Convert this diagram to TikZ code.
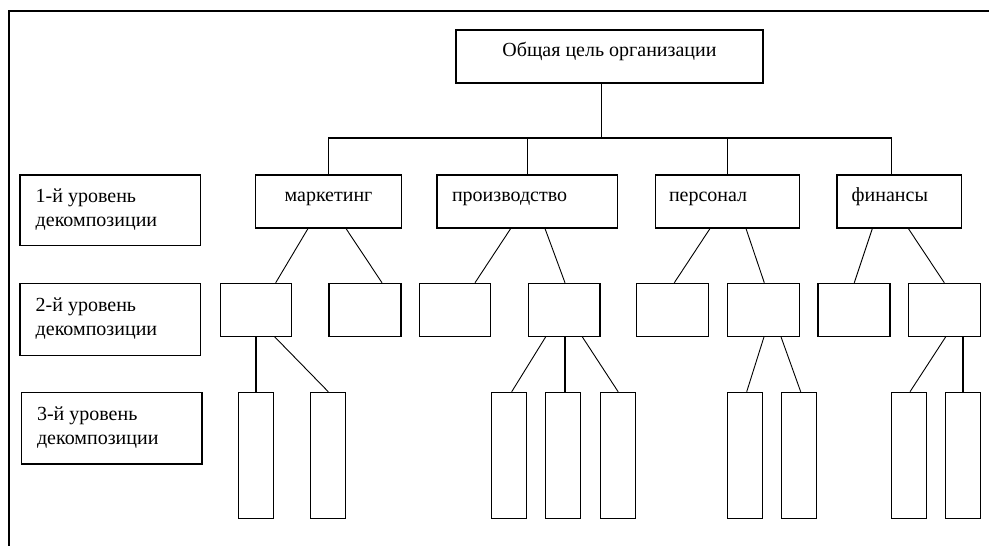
\documentclass[tikz,border=0pt]{standalone}
\usepackage{fontspec}
\setmainfont{Liberation Serif}
\begin{document}
\begin{tikzpicture}[x=1pt,y=-1pt,
  line width=1.1pt,
  box/.style={draw, inner sep=0pt, minimum height=53pt},
  onel/.style={box, font=\fontsize{20}{24}\selectfont, text height=10pt, text depth=10pt},
  lvl/.style={draw, inner sep=0pt, minimum width=180.7pt, font=\fontsize{20}{24}\selectfont, text height=6pt, text depth=22pt},
  tall/.style={draw, inner sep=0pt, minimum width=35pt, minimum height=126pt},
  conn/.style={line width=0.9pt}]
\useasboundingbox (0,0) rectangle (989,546);
% frame
\draw (9,546) -- (9,11) -- (989,11);
% top
\node[onel, minimum width=307pt] (goal) at (609.5,56.5) {Общая цель организации};
% level 1
\node[onel, minimum width=145.6pt] (mkt) at (328.5,201.5) {маркетинг};
\node[onel, minimum width=180.7pt] (prod) at (527.35,201.5) {\makebox[150.7pt][l]{производство}};
\node[onel, minimum width=143.6pt] (pers) at (727.5,201.5) {\makebox[117pt][l]{персонал}};
\node[onel, minimum width=124.7pt] (fin) at (899.35,201.5) {\makebox[95.3pt][l]{финансы}};
% level labels
\node[lvl, minimum height=70.7pt] (l1) at (110.35,210.35) {\makebox[149.3pt][l]{\begin{tabular}[t]{@{}l@{}}1-й уровень\\декомпозиции\end{tabular}}};
\node[lvl, minimum height=72.4pt] (l2) at (110.35,319.5) {\makebox[149.3pt][l]{\begin{tabular}[t]{@{}l@{}}2-й уровень\\декомпозиции\end{tabular}}};
\node[lvl, minimum height=71.7pt] (l3) at (111.65,428.15) {\makebox[149.3pt][l]{\begin{tabular}[t]{@{}l@{}}3-й уровень\\декомпозиции\end{tabular}}};
% level 2
\node[box, minimum width=70.6pt] (m1) at (256,309.8) {};
\node[box, minimum width=72pt] (m2) at (365,309.8) {};
\node[box, minimum width=70.6pt] (p1) at (455,309.8) {};
\node[box, minimum width=71.7pt] (p2) at (564.15,309.8) {};
\node[box, minimum width=72.4pt] (pe1) at (672.5,309.8) {};
\node[box, minimum width=72pt] (pe2) at (763.3,309.8) {};
\node[box, minimum width=72pt] (f1) at (854,309.8) {};
\node[box, minimum width=72pt] (f2) at (944.7,309.8) {};
% level 3
\node[tall] (m3a) at (255.85,455.3) {};
\node[tall] (m3b) at (327.65,455.3) {};
\node[tall] (p3a) at (509.2,455.3) {};
\node[tall] (p3b) at (563.35,455.3) {};
\node[tall] (p3c) at (618.15,455.3) {};
\node[tall] (pe3a) at (745,455.3) {};
\node[tall] (pe3b) at (799.2,455.3) {};
\node[tall] (f3a) at (909,455.3) {};
\node[tall] (f3b) at (963,455.3) {};
% tree bus
\coordinate (bus) at (0,138);
\draw ([xshift=-7.8pt]goal.south) -- ([xshift=-7.8pt]goal.south |- bus);
\draw (mkt.north) -- (mkt.north |- bus) -- ([xshift=-7.65pt]fin.north |- bus) -- ([xshift=-7.65pt]fin.north);
\draw (prod.north) -- (prod.north |- bus);
\draw (pers.north) -- (pers.north |- bus);
% level 1 -> level 2
\draw[conn] ([xshift=-20.5pt]mkt.south) -- ([xshift=19.7pt]m1.north);
\draw[conn] ([xshift=17.5pt]mkt.south) -- ([xshift=17pt]m2.north);
\draw[conn] ([xshift=-16.65pt]prod.south) -- ([xshift=20pt]p1.north);
\draw[conn] ([xshift=17.65pt]prod.south) -- ([xshift=0.85pt]p2.north);
\draw[conn] ([xshift=-17.5pt]pers.south) -- ([xshift=1.8pt]pe1.north);
\draw[conn] ([xshift=18.5pt]pers.south) -- ([xshift=1pt]pe2.north);
\draw[conn] ([xshift=-27pt]fin.south) -- ([xshift=0.3pt]f1.north);
\draw[conn] ([xshift=9pt]fin.south) -- ([xshift=-0.4pt]f2.north);
% level 2 -> level 3
\draw (m1.south) -- (m1.south |- m3a.north);
\draw[conn] ([xshift=18.7pt]m1.south) -- ([xshift=0.65pt]m3b.north);
\draw[conn] ([xshift=-18.45pt]p2.south) -- ([xshift=2.5pt]p3a.north);
\draw ([xshift=0.85pt]p2.south) -- ([xshift=1.65pt]p3b.north);
\draw[conn] ([xshift=18.15pt]p2.south) -- (p3c.north);
\draw[conn] ([xshift=0.7pt]pe2.south) -- ([xshift=1.7pt]pe3a.north);
\draw[conn] ([xshift=17.7pt]pe2.south) -- ([xshift=1.5pt]pe3b.north);
\draw[conn] ([xshift=1pt]f2.south) -- ([xshift=1pt]f3a.north);
\draw ([xshift=18.3pt]f2.south) -- (f3b.north);
\end{tikzpicture}
\end{document}
